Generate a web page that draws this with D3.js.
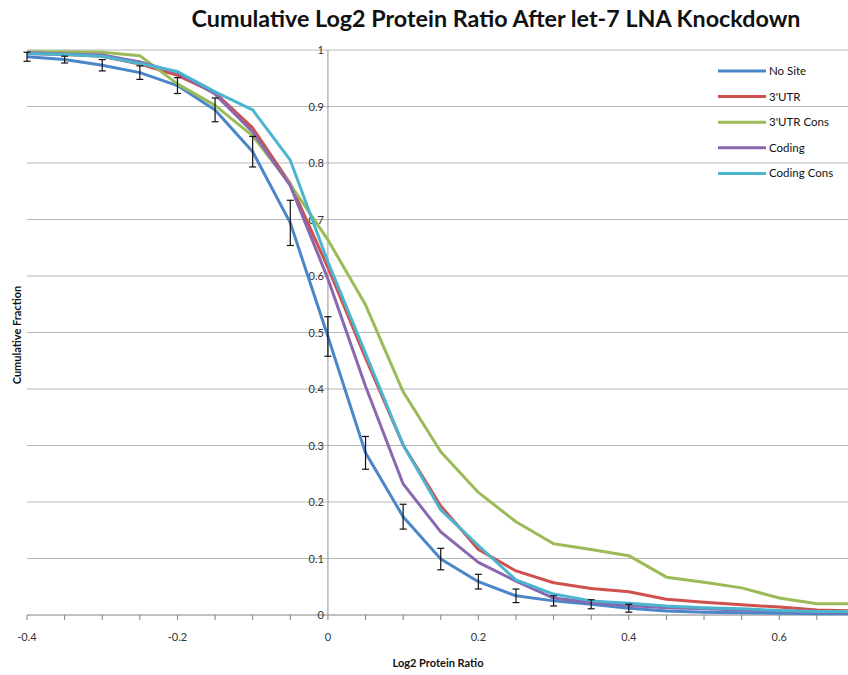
<!DOCTYPE html>
<html><head><meta charset="utf-8">
<script src="https://cdn.jsdelivr.net/npm/d3@7"></script>
<style>body{margin:0;background:#fff}svg{display:block}</style>
</head><body><svg id="c" width="848" height="675"></svg>
<script>
const xValues = [-0.4,-0.35,-0.3,-0.25,-0.2,-0.15,-0.1,-0.05,0,0.05,0.1,0.15,0.2,0.25,0.3,0.35,0.4,0.45,0.5,0.55,0.6,0.65,0.7];
const noSite    = [0.988,0.983,0.973,0.960,0.937,0.894,0.820,0.694,0.493,0.287,0.174,0.099,0.059,0.034,0.025,0.019,0.012,0.007,0.005,0.004,0.003,0.002,0.002];
const utr3      = [0.994,0.992,0.989,0.975,0.955,0.924,0.862,0.763,0.615,0.455,0.301,0.193,0.116,0.078,0.057,0.047,0.041,0.028,0.0225,0.018,0.014,0.009,0.007];
const utr3Cons  = [0.997,0.997,0.996,0.990,0.940,0.902,0.848,0.762,0.664,0.549,0.395,0.289,0.217,0.165,0.126,0.116,0.105,0.067,0.058,0.048,0.030,0.020,0.020];
const coding    = [0.995,0.993,0.991,0.979,0.960,0.922,0.855,0.760,0.595,0.405,0.232,0.147,0.093,0.060,0.030,0.022,0.017,0.013,0.011,0.009,0.007,0.005,0.005];
const codingCons= [0.994,0.992,0.989,0.976,0.962,0.926,0.894,0.805,0.625,0.463,0.301,0.186,0.123,0.062,0.037,0.025,0.021,0.016,0.013,0.011,0.008,0.006,0.006];
const errNoSite = [0.008,0.006,0.010,0.012,0.014,0.021,0.027,0.040,0.035,0.029,0.022,0.019,0.013,0.012,0.009,0.008,0.007];
const seriesNames = ["No Site","3'UTR","3'UTR Cons","Coding","Coding Cons"];
const seriesColors = ["#4A86C8","#D0504D","#9BBB59","#8A67AE","#4BB5D0"];
const xTicks = [-0.4,-0.2,0,0.2,0.4,0.6];
const yTicks = [0,0.1,0.2,0.3,0.4,0.5,0.6,0.7,0.8,0.9,1];
const allSeries = [noSite, utr3, utr3Cons, coding, codingCons];

const svg = d3.select("#c");
const font = "Lato, 'Open Sans', sans-serif";
const x = d3.scaleLinear().domain([-0.4,0.7]).range([27,854.5]);
const y = d3.scaleLinear().domain([0,1]).range([615,50]);

// gridlines
svg.append("g").selectAll("line").data(yTicks).join("line")
  .attr("x1",27).attr("x2",848).attr("y1",d=>y(d)).attr("y2",d=>y(d))
  .attr("stroke","#b7b7b7").attr("stroke-width",1.2);

// y axis line at x=0
svg.append("line").attr("x1",x(0)).attr("x2",x(0)).attr("y1",y(1)).attr("y2",y(0))
  .attr("stroke","#a6a6a6").attr("stroke-width",1.2);

// x axis line and ticks
svg.append("line").attr("x1",27).attr("x2",848).attr("y1",y(0)).attr("y2",y(0))
  .attr("stroke","#a6a6a6").attr("stroke-width",1.2);
svg.append("g").selectAll("line").data(xValues).join("line")
  .attr("x1",d=>x(d)).attr("x2",d=>x(d)).attr("y1",y(0)).attr("y2",y(0)+5)
  .attr("stroke","#7f7f7f").attr("stroke-width",1);

// tick labels
svg.append("g").selectAll("text").data(xTicks).join("text")
  .attr("x",d=>x(d)).attr("y",641).attr("text-anchor","middle")
  .attr("font-family",font).attr("font-size",11).attr("fill","#333")
  .text(d=>+d.toFixed(1));
svg.append("g").selectAll("text").data(yTicks).join("text")
  .attr("x",x(0)-4).attr("y",d=>y(d)+4).attr("text-anchor","end")
  .attr("font-family",font).attr("font-size",11).attr("fill","#333")
  .text(d=>+d.toFixed(1));

// lines
const line = d3.line().x((d,i)=>x(xValues[i])).y(d=>y(d));
allSeries.forEach((s,k)=>{
  svg.append("path").datum(s).attr("d",line).attr("fill","none")
    .attr("stroke",seriesColors[k]).attr("stroke-width",3).attr("stroke-linejoin","round");
});

// error bars
const eb = svg.append("g").attr("stroke","#111").attr("stroke-width",1.2);
errNoSite.forEach((e,i)=>{
  const cx = x(xValues[i]), v = noSite[i];
  eb.append("line").attr("x1",cx).attr("x2",cx).attr("y1",y(v+e)).attr("y2",y(v-e));
  eb.append("line").attr("x1",cx-3.5).attr("x2",cx+3.5).attr("y1",y(v+e)).attr("y2",y(v+e));
  eb.append("line").attr("x1",cx-3.5).attr("x2",cx+3.5).attr("y1",y(v-e)).attr("y2",y(v-e));
});

// legend
const lg = svg.append("g");
seriesNames.forEach((n,k)=>{
  const ly = 71 + k*25.6;
  lg.append("line").attr("x1",718).attr("x2",766).attr("y1",ly).attr("y2",ly)
    .attr("stroke",seriesColors[k]).attr("stroke-width",3);
  lg.append("text").attr("x",769).attr("y",ly+4).attr("font-family",font)
    .attr("font-size",11.5).attr("fill","#111").text(n);
});

// title and axis titles
svg.append("text").attr("x",496).attr("y",27).attr("text-anchor","middle")
  .attr("font-family",font).attr("font-weight","bold").attr("font-size",23.3).attr("fill","#111")
  .text("Cumulative Log2 Protein Ratio After let-7 LNA Knockdown");
svg.append("text").attr("x",438).attr("y",667).attr("text-anchor","middle")
  .attr("font-family",font).attr("font-weight","bold").attr("font-size",11).attr("fill","#111")
  .text("Log2 Protein Ratio");
svg.append("text").attr("transform","translate(21,335) rotate(-90)").attr("text-anchor","middle")
  .attr("font-family",font).attr("font-weight","bold").attr("font-size",11).attr("fill","#111")
  .text("Cumulative Fraction");
</script></body></html>
